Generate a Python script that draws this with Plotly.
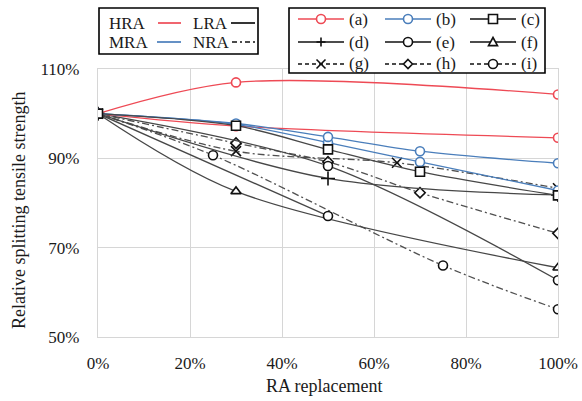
import plotly.graph_objects as go

# ---- data: RA replacement level (%) and relative splitting tensile strength (%) ----
# HRA series
a1_x = [0, 30, 100]
a1_y = [100, 107.0, 104.3]
a2_x = [0, 30, 100]
a2_y = [100, 97.2, 94.6]
# MRA series
b1_x = [0, 30, 50, 70, 100]
b1_y = [100, 97.8, 94.8, 91.6, 88.9]
b2_x = [0, 30, 50, 70, 100]
b2_y = [100, 97.6, 93.5, 89.2, 82.8]
# LRA series
c_x = [0, 30, 50, 70, 100]
c_y = [100, 97.3, 92.0, 87.0, 81.7]
d_x = [0, 50, 100]
d_y = [100, 85.5, 81.8]
e1_x = [0, 50, 100]
e1_y = [100, 88.3, 62.7]
e2_x = [0, 50]
e2_y = [100, 77.1]
f_x = [0, 30, 100]
f_y = [100, 82.6, 65.5]
# NRA series
g_x = [0, 30, 65, 100]
g_y = [100, 91.6, 89.0, 83.3]
h_x = [0, 30, 50, 70, 100]
h_y = [100, 93.4, 89.2, 82.3, 73.2]
i_x = [0, 25, 75, 100]
i_y = [100, 90.7, 66.0, 56.2]

x_ticks = [0, 20, 40, 60, 80, 100]
x_ticktext = ["0%", "20%", "40%", "60%", "80%", "100%"]
y_ticks = [50, 70, 90, 110]
y_ticktext = ["50%", "70%", "90%", "110%"]

legend_labels = ["(a)", "(b)", "(c)", "(d)", "(e)", "(f)", "(g)", "(h)", "(i)"]
group_names = ["HRA", "LRA", "MRA", "NRA"]

# ---- styles ----
RED = "#ee4a55"
BLUE = "#4a7ebb"
DARK = "#474747"
NRA_C = "#505050"
NRA_DASH = "7px,3px,2px,3px"
FONT = "Liberation Serif"
TXT = "#1a1a1a"
MARK_EDGE = "#111111"

group_style = {
    "HRA": dict(color=RED, dash="solid"),
    "MRA": dict(color=BLUE, dash="solid"),
    "LRA": dict(color=DARK, dash="solid"),
    "NRA": dict(color=NRA_C, dash=NRA_DASH),
}

symbol_of = {
    "(a)": "circle", "(b)": "circle", "(c)": "square",
    "(d)": "cross-thin", "(e)": "circle", "(f)": "triangle-up",
    "(g)": "x-thin", "(h)": "diamond", "(i)": "circle",
}
group_of = {
    "(a)": "HRA", "(b)": "MRA", "(c)": "LRA", "(d)": "LRA", "(e)": "LRA",
    "(f)": "LRA", "(g)": "NRA", "(h)": "NRA", "(i)": "NRA",
}

series = [
    ("(i)", i_x, i_y),
    ("(h)", h_x, h_y),
    ("(g)", g_x, g_y),
    ("(f)", f_x, f_y),
    ("(e)", e2_x, e2_y),
    ("(e)", e1_x, e1_y),
    ("(d)", d_x, d_y),
    ("(a)", a2_x, a2_y),
    ("(a)", a1_x, a1_y),
    ("(b)", b2_x, b2_y),
    ("(b)", b1_x, b1_y),
    ("(c)", c_x, c_y),
]


def edge_color(label):
    grp = group_of[label]
    return group_style[grp]["color"] if grp in ("HRA", "MRA") else MARK_EDGE


def marker_for(label):
    sym = symbol_of[label]
    thin = sym.endswith("-thin")
    return dict(
        symbol=sym,
        size=10 if thin else (8 if sym == "diamond" else 9),
        color=edge_color(label) if thin else "white",
        line=dict(color=edge_color(label), width=1.6),
    )


fig = go.Figure()

for label, xs, ys in series:
    sty = group_style[group_of[label]]
    fig.add_trace(go.Scatter(
        x=xs, y=ys, mode="lines+markers",
        line=dict(color=sty["color"], dash=sty["dash"], width=1.3,
                  shape="spline", smoothing=0.9),
        marker=marker_for(label),
        showlegend=False, hoverinfo="skip",
    ))

# plot-area geometry in pixels (used to place the legends and titles)
W, H = 582, 401
ML, MR, MT, MB = 98, 24, 69, 64
PW, PH = W - ML - MR, H - MT - MB


def px(xp):
    return (xp - ML) / PW


def py(yp):
    return (H - MB - yp) / PH


shapes = []
annotations = []


def text_at(s, x, y, size=17, anchor="left"):
    annotations.append(dict(text=s, x=px(x), y=py(y), xref="paper", yref="paper",
                            xanchor=anchor, yanchor="middle", showarrow=False,
                            font=dict(family=FONT, size=size, color=TXT)))


def line_at(x0, x1, y, color, dash, width=1.5):
    shapes.append(dict(type="line", xref="paper", yref="paper",
                       x0=px(x0), x1=px(x1), y0=py(y), y1=py(y),
                       line=dict(color=color, width=width, dash=dash), layer="above"))


def box_at(x0, y0, x1, y1):
    shapes.append(dict(type="rect", xref="paper", yref="paper",
                       x0=px(x0), x1=px(x1), y0=py(y0), y1=py(y1),
                       line=dict(color="black", width=1.6), fillcolor="white",
                       layer="above"))


def path_of(points, closed=True):
    d = "M " + " L ".join(f"{px(a):.5f},{py(b):.5f}" for a, b in points)
    return d + (" Z" if closed else "")


def symbol_at(sym, cx, cy, edge, r=4.5):
    base = dict(xref="paper", yref="paper", layer="above",
                line=dict(color=edge, width=1.6))
    if sym == "circle":
        shapes.append(dict(type="circle", x0=px(cx - r), x1=px(cx + r),
                           y0=py(cy + r), y1=py(cy - r), fillcolor="white", **base))
    elif sym == "square":
        shapes.append(dict(type="rect", x0=px(cx - r), x1=px(cx + r),
                           y0=py(cy + r), y1=py(cy - r), fillcolor="white", **base))
    elif sym == "triangle-up":
        shapes.append(dict(type="path", fillcolor="white",
                           path=path_of([(cx, cy - r), (cx + r, cy + r * 0.8),
                                         (cx - r, cy + r * 0.8)]), **base))
    elif sym == "diamond":
        shapes.append(dict(type="path", fillcolor="white",
                           path=path_of([(cx, cy - r), (cx + r, cy), (cx, cy + r),
                                         (cx - r, cy)]), **base))
    elif sym == "cross-thin":
        shapes.append(dict(type="path", path=path_of([(cx - r, cy), (cx + r, cy)], False), **base))
        shapes.append(dict(type="path", path=path_of([(cx, cy - r), (cx, cy + r)], False), **base))
    elif sym == "x-thin":
        shapes.append(dict(type="path", path=path_of([(cx - r, cy - r), (cx + r, cy + r)], False), **base))
        shapes.append(dict(type="path", path=path_of([(cx - r, cy + r), (cx + r, cy - r)], False), **base))


# group legend (line colour / style): text followed by a line sample
box_at(99, 8, 258, 54)
group_cells = [("HRA", 107, 158, 181, 23), ("LRA", 191, 231, 255, 23),
               ("MRA", 107, 157, 181, 42), ("NRA", 191, 232, 255, 42)]
for name, tx, lx0, lx1, ty in group_cells:
    text_at(name, tx, ty)
    if name == "NRA":
        line_at(lx0, lx1, ty, MARK_EDGE, "5px,3px,2px,3px", 1.7)
    else:
        line_at(lx0, lx1, ty, group_style[name]["color"] if name != "LRA" else MARK_EDGE,
                "solid", 1.7)

# source legend (marker symbols): 3 x 3 grid
box_at(289, 8, 545, 73)
col_x = [298, 385, 470]
row_y = [19, 42, 64]
for k, label in enumerate(legend_labels):
    cx0 = col_x[k % 3]
    cy = row_y[k // 3]
    edge = edge_color(label)
    dash = "4px,3px" if group_of[label] == "NRA" else "solid"
    line_at(cx0, cx0 + 46, cy, edge, dash, 1.5)
    symbol_at(symbol_of[label], cx0 + 23, cy, edge)
    text_at(label, cx0 + 49, cy)

# axis titles
text_at("RA replacement", 324, 386, size=18, anchor="center")
annotations.append(dict(text="Relative splitting tensile strength", x=px(19), y=py(211),
                        xref="paper", yref="paper", xanchor="center", yanchor="middle",
                        textangle=-90, showarrow=False,
                        font=dict(family=FONT, size=18, color=TXT)))

GRID = "#d6d6d6"
fig.update_layout(
    width=W, height=H,
    margin=dict(l=ML, r=MR, t=MT, b=MB, autoexpand=False),
    paper_bgcolor="white", plot_bgcolor="white",
    font=dict(family=FONT, size=17, color=TXT),
    showlegend=False,
    xaxis=dict(range=[0, 100], tickvals=x_ticks, ticktext=x_ticktext,
               showgrid=True, gridcolor=GRID, gridwidth=1.3, zeroline=False,
               showline=True, linecolor=GRID, linewidth=1.3, mirror=True,
               ticks="", ticklabelstandoff=10, automargin=False,
               tickfont=dict(family=FONT, size=17, color=TXT)),
    yaxis=dict(range=[50, 110], tickvals=y_ticks, ticktext=y_ticktext,
               showgrid=True, gridcolor=GRID, gridwidth=1.3, zeroline=False,
               showline=True, linecolor=GRID, linewidth=1.3, mirror=True,
               ticks="", ticklabelstandoff=14, automargin=False,
               tickfont=dict(family=FONT, size=17, color=TXT)),
    shapes=shapes,
    annotations=annotations,
)

fig.write_html("out.html")
